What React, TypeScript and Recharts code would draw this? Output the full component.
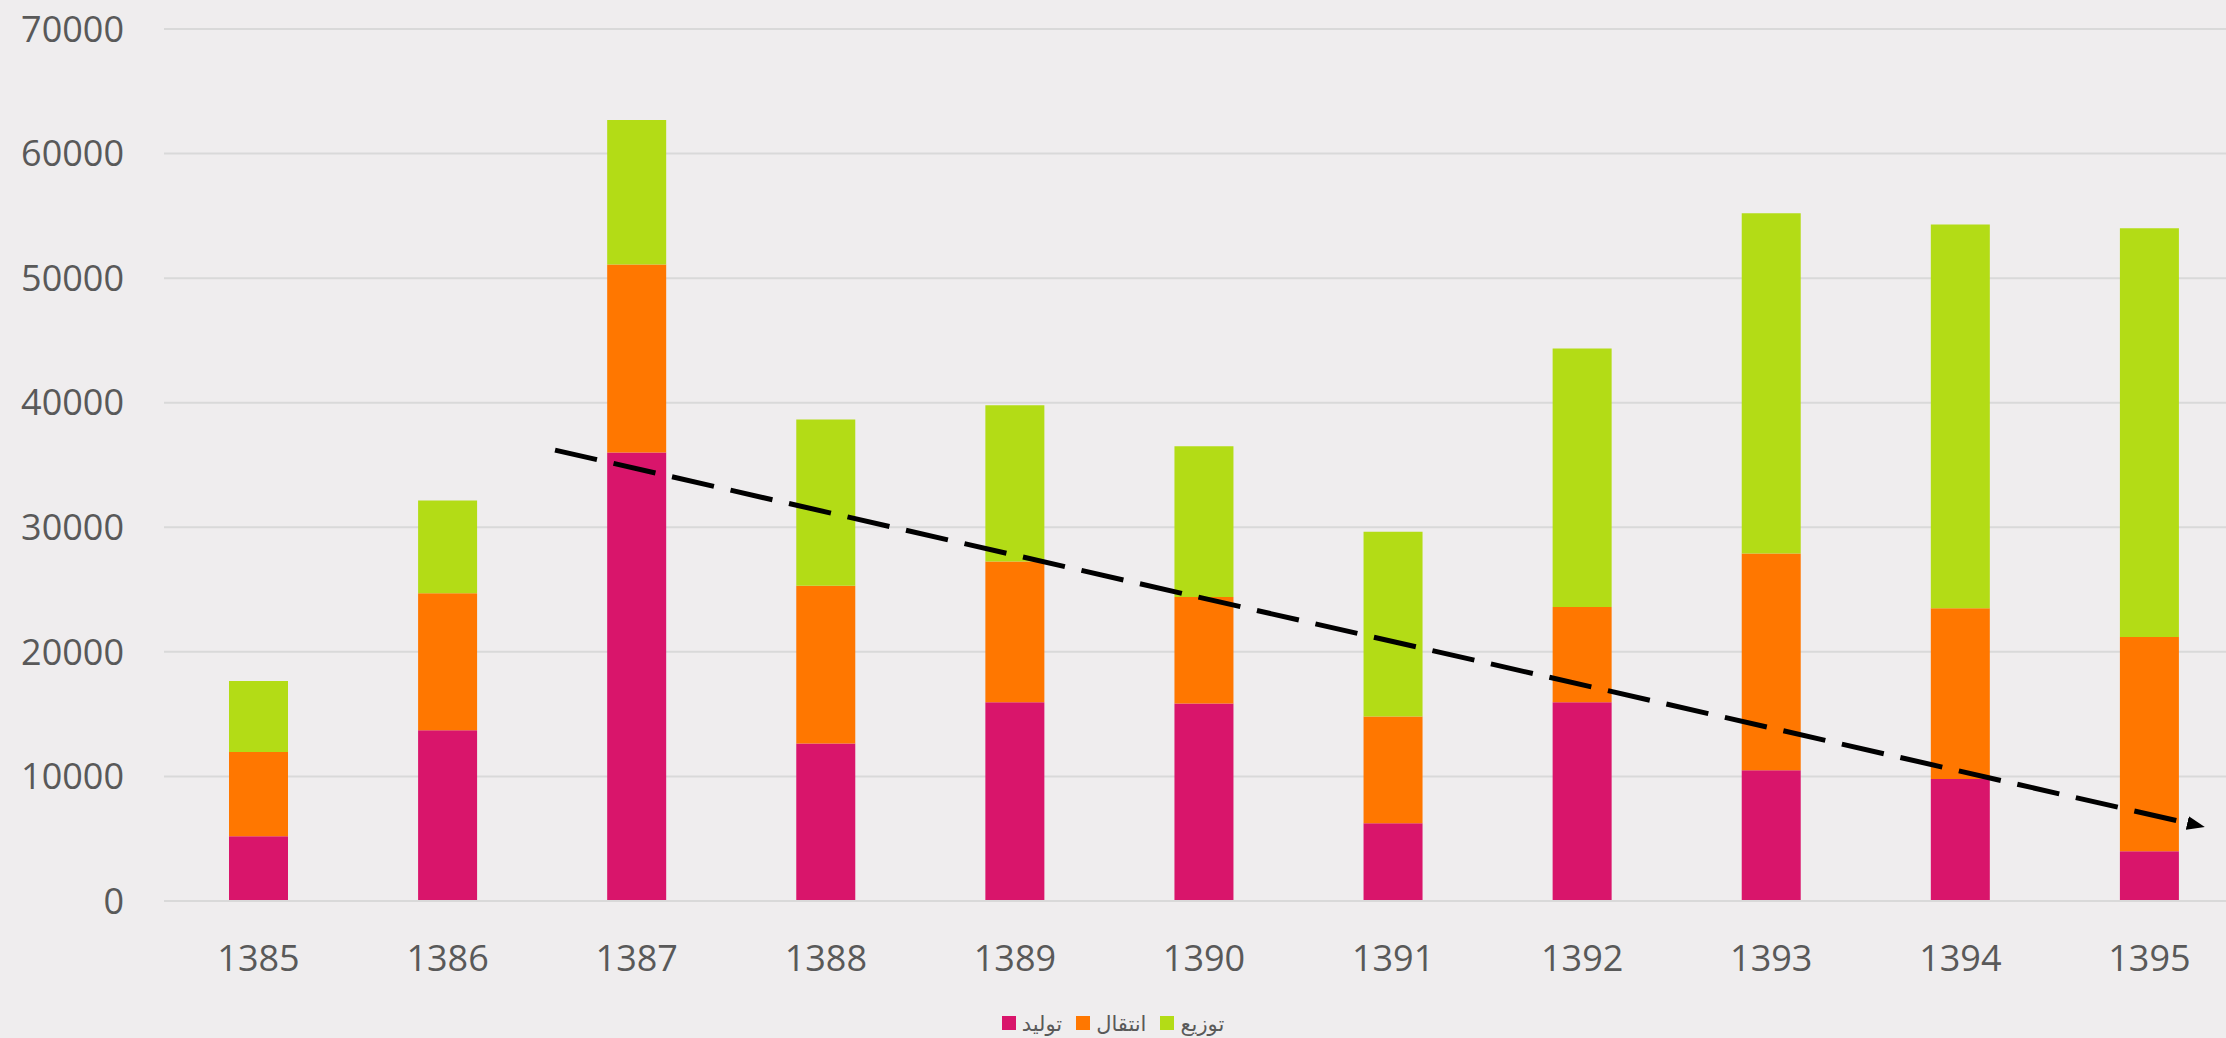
import {
  BarChart,
  Bar,
  XAxis,
  YAxis,
  CartesianGrid,
  Legend,
  ReferenceLine,
} from "recharts";

const years = ["1385", "1386", "1387", "1388", "1389", "1390", "1391", "1392", "1393", "1394", "1395"];
const tolid = [5200, 13700, 36000, 12650, 15950, 15850, 6250, 15950, 10500, 9800, 4000];
const enteghal = [6770, 11000, 15100, 12650, 11300, 8550, 8570, 7650, 17400, 13700, 17200];
const tozi = [5700, 7450, 11600, 13350, 12550, 12100, 14820, 20750, 27300, 30800, 32800];
const yTicks = [0, 10000, 20000, 30000, 40000, 50000, 60000, 70000];

// trend arrow: values at the 1387 and 1395 category centres,
// stretched a little past both ends (fraction of the segment)
const trendFrom = { x: "1387", y: 34700 };
const trendTo = { x: "1395", y: 6950 };
const trendStretch = [-0.054, 0.025];

const series = [
  { key: "tolid", name: "تولید", color: "#D9156B" },
  { key: "enteghal", name: "انتقال", color: "#FF7700" },
  { key: "tozi", name: "توزیع", color: "#B3DC16" },
];

const data = years.map((year, i) => ({
  year,
  tolid: tolid[i],
  enteghal: enteghal[i],
  tozi: tozi[i],
}));

const FONT = "'Open Sans', 'DejaVu Sans', sans-serif";
const TEXT = "#595959";

const LegendContent = () => (
  <div
    style={{
      display: "flex",
      justifyContent: "center",
      alignItems: "center",
      gap: 14,
      fontFamily: FONT,
      fontSize: 21,
      color: TEXT,
      height: 39,
      paddingTop: 8,
      boxSizing: "border-box",
    }}
  >
    {series.map((s) => (
      <div key={s.key} style={{ display: "flex", alignItems: "center", gap: 6 }}>
        <span style={{ width: 14, height: 14, background: s.color, display: "inline-block" }} />
        <span>{s.name}</span>
      </div>
    ))}
  </div>
);

const TrendArrow = (props: any) => {
  const { x1, y1, x2, y2 } = props;
  const [a, b] = trendStretch;
  const sx = x1 + a * (x2 - x1);
  const sy = y1 + a * (y2 - y1);
  const ex = x2 + b * (x2 - x1);
  const ey = y2 + b * (y2 - y1);
  return (
    <g>
      <defs>
        <marker
          id="trendHead"
          markerUnits="userSpaceOnUse"
          markerWidth={18}
          markerHeight={14}
          refX={0}
          refY={7}
          orient="auto"
        >
          <path d="M0,0 L18,7 L0,14 z" fill="#000" />
        </marker>
      </defs>
      <line
        x1={sx}
        y1={sy}
        x2={ex}
        y2={ey}
        stroke="#000"
        strokeWidth={5}
        strokeDasharray="43 17"
        markerEnd="url(#trendHead)"
      />
    </g>
  );
};

const App = () => {
  return (
    <div
      style={{
        position: "absolute",
        left: 0,
        top: 0,
        width: 2226,
        height: 1038,
        overflow: "hidden",
        background: "#EFEDEE",
      }}
    >
      <BarChart
        width={2260}
        height={1038}
        data={data}
        margin={{ top: 29, right: 16, left: 0, bottom: 0 }}
      >
        <CartesianGrid vertical={false} stroke="#D9D9D9" strokeWidth={2} />
        <XAxis
          dataKey="year"
          axisLine={{ stroke: "#D9D9D9", strokeWidth: 2 }}
          tickLine={false}
          tickSize={0}
          tickMargin={44}
          height={98}
          tick={{ fill: TEXT, fontSize: 36, fontFamily: FONT }}
        />
        <YAxis
          domain={[0, 70000]}
          ticks={yTicks}
          axisLine={false}
          tickLine={false}
          tickSize={0}
          tickMargin={40}
          width={164}
          tick={{ fill: TEXT, fontSize: 36, fontFamily: FONT }}
        />
        <Legend
          verticalAlign="bottom"
          height={39}
          wrapperStyle={{ left: 0, width: 2226 }}
          content={<LegendContent />}
        />
        {series.map((s) => (
          <Bar
            key={s.key}
            dataKey={s.key}
            name={s.name}
            stackId="a"
            fill={s.color}
            barSize={59}
            isAnimationActive={false}
          />
        ))}
        <ReferenceLine
          segment={[trendFrom, trendTo]}
          ifOverflow="visible"
          shape={TrendArrow}
        />
      </BarChart>
    </div>
  );
};

export default App;
